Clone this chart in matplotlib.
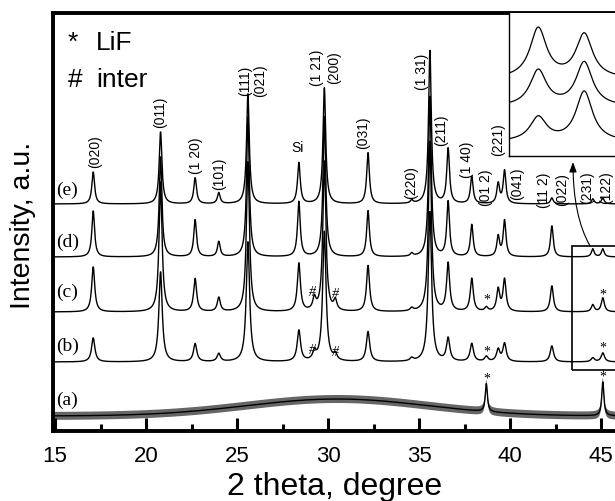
from matplotlib import pyplot as plt
from matplotlib.patches import Rectangle
import numpy as np

# peak positions (2 theta) shared by the patterns
peak_pos = [17.1, 20.8, 22.7, 24.0, 25.6, 28.4, 29.25, 29.8, 30.4, 32.2,
            34.6, 35.6, 36.6, 37.9, 38.7, 39.35, 39.7, 42.3, 44.55, 45.1]
# peak heights (a.u.)
h_e = [32, 72, 26, 11, 110, 41, 0, 116, 0, 51, 3, 153, 55, 27, 0, 20, 33, 6, 5, 6]
h_d = [46, 100, 37, 15, 140, 55, 0, 140, 0, 46, 3, 160, 55, 32, 0, 20, 36, 31, 8, 8]
h_c = [45, 130, 33, 14, 150, 48, 12, 150, 10, 46, 3, 170, 48, 33, 4, 22, 32, 26, 7, 14]
h_b = [24, 90, 18, 8, 120, 31, 8, 130, 6, 30, 3, 150, 23, 18, 5, 12, 18, 16, 4, 9]

# pattern (a): amorphous hump plus two LiF peaks
a_pos = [38.7, 45.1]
a_h = [28, 34]
hump_center, hump_height, hump_sigma = 30.5, 17, 5.0
a_noise = 4

offsets = {"a": 15, "b": 69, "c": 119, "d": 174, "e": 227}
trace_label_y = {"a": 32, "b": 86, "c": 140, "d": 190, "e": 242}

# Miller index labels: text, 2 theta, height
hkl = [("(020)", 17.2, 280), ("(011)", 20.77, 320), ("(1 20)", 22.75, 276),
       ("(101)", 24.0, 258), ("(111)", 25.44, 351), ("(021)", 26.26, 351),
       ("(1 21)", 29.4, 364), ("(200)", 30.33, 364), ("(031)", 31.92, 299),
       ("(220)", 34.56, 249), ("(1 31)", 35.16, 360), ("(211)", 36.2, 302),
       ("(1 40)", 37.64, 272), ("(221)", 39.34, 292), ("(01 2)", 38.68, 244),
       ("(041)", 40.38, 248), ("(11 2)", 41.87, 242), ("(022)", 42.86, 242),
       ("(231)", 44.23, 244), ("(122)", 45.27, 244)]

stars = [(38.7, 132), (45.1, 137), (38.7, 80), (45.1, 84), (38.7, 53), (45.1, 55)]
hashes = [(29.15, 140), (30.4, 138), (29.15, 82), (30.4, 80)]

# inset: zoom on 44-46 degrees for (d), (c), (b)
inset_pos = [44.55, 45.1]
inset_base = [77, 49, 14]
inset_h = [[50, 44], [36, 44], [24, 50]]


def profile(x, pos, heights, gamma):
    y = np.zeros_like(x)
    for p, h in zip(pos, heights):
        if h:
            y += h * gamma**2 / ((x - p)**2 + gamma**2)
    return y


px_per_deg = 18.2
x0 = 15 - 2 / px_per_deg
fig = plt.figure(figsize=(6.15, 5.02), dpi=100)
ax = fig.add_axes([53/615, 70/502, 620/615, 418/502])
x = np.linspace(x0, x0 + 620/px_per_deg, 4000)

for key, hs, g in [("b", h_b, 0.11), ("c", h_c, 0.1), ("d", h_d, 0.09), ("e", h_e, 0.09)]:
    ax.plot(x, offsets[key] + profile(x, peak_pos, hs, g), color="black", lw=1.0)

ya = offsets["a"] + hump_height * np.exp(-(x - hump_center)**2 / (2 * hump_sigma**2))
ya = ya + profile(x, a_pos, a_h, 0.07)
ax.fill_between(x, ya - a_noise, ya + a_noise, color="0.4", lw=0)
ax.plot(x, ya, color="black", lw=1.0)

for key, yy in trace_label_y.items():
    ax.text(15.05, yy, "(%s)" % key, fontsize=14, family="Liberation Serif", va="center", ha="left")

for t, xx, yy in hkl:
    ax.text(xx, yy, t, rotation=90, fontsize=10, ha="center", va="center", family="Liberation Sans")
ax.text(28.3, 284, "Si", fontsize=10, ha="center", va="center", family="Liberation Sans")

for xx, yy in stars:
    ax.text(xx, yy, "*", fontsize=10, ha="center", va="center", family="Liberation Serif")
for xx, yy in hashes:
    ax.text(xx, yy, "#", fontsize=10, ha="center", va="center", family="Liberation Serif", style="italic")

ax.text(15.7, 432 - 50, "*", fontsize=19, family="Liberation Sans", va="baseline")
ax.text(17.25, 432 - 50, "LiF", fontsize=19, family="Liberation Sans", va="baseline")
ax.text(15.7, 432 - 87, "#", fontsize=19, family="Liberation Sans", va="baseline")
ax.text(17.25, 432 - 87, "inter", fontsize=19, family="Liberation Sans", va="baseline")

ax.add_patch(Rectangle((43.4, 61), 5, 124, fill=False, lw=1.2, color="black"))
ax.annotate("", xy=(43.46, 269), xytext=(44.4, 185),
            arrowprops=dict(arrowstyle="-|>,head_length=0.6,head_width=0.22", color="black", lw=0.8,
                            connectionstyle="angle3,angleA=120,angleB=90", shrinkA=0, shrinkB=0))

ax.set_xlim(x0, x0 + 620/px_per_deg)
ax.set_ylim(0, 418)
ax.set_xticks(np.arange(15, 50, 5))
ax.set_xticks(np.arange(17.5, 47, 5), minor=True)
ax.set_yticks([])
ax.tick_params(axis="x", which="major", direction="in", length=9.5, width=2.2, pad=10, labelsize=16)
ax.tick_params(axis="x", which="minor", direction="in", length=5, width=2.2)
for lab in ax.get_xticklabels():
    lab.set_family("Liberation Sans")
for s in ["left", "top", "bottom"]:
    ax.spines[s].set_linewidth(2.8)
ax.spines["right"].set_visible(False)

# inset
ins = fig.add_axes([509/615, 345/502, 140/615, 143/502])
xi = np.linspace(44.2, 44.2 + 140/83.6, 600)
for b, hs in zip(inset_base, inset_h):
    ins.plot(xi, b + profile(xi, inset_pos, hs, 0.12), color="black", lw=0.9)
ins.set_xlim(44.2, 44.2 + 140/83.6)
ins.set_ylim(0, 143)
ins.set_xticks([])
ins.set_yticks([])
ins.spines["top"].set_visible(False)
ins.spines["right"].set_visible(False)
for s in ["left", "bottom"]:
    ins.spines[s].set_linewidth(1.0)

fig.text(23/615, 1 - 225/502, "Intensity, a.u.", rotation=90, fontsize=20.5,
         ha="center", va="center", family="Liberation Sans")
fig.text(335/615, 7/502, "2 theta, degree", fontsize=23, ha="center", va="baseline",
         family="Liberation Sans")

fig.savefig("out.png", dpi=100)
